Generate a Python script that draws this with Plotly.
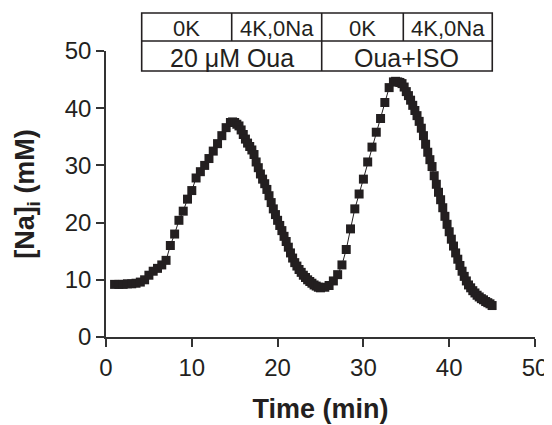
import plotly.graph_objects as go

time_min = [1.0, 1.5, 2.0, 2.5, 3.0, 3.5, 4.0, 4.5, 5.0, 5.5, 6.0, 6.5, 7.0, 7.5, 8.0, 8.5, 9.0, 9.5,
            10.0, 10.5, 11.0, 11.5, 12.0, 12.5, 13.0, 13.5, 14.0, 14.5,
            14.75, 15.0, 15.25, 15.5, 15.75, 16.0, 16.25, 16.5, 16.75, 17.0, 17.25, 17.5, 17.75,
            18.0, 18.25, 18.5, 18.75, 19.0, 19.25, 19.5, 19.75, 20.0, 20.25, 20.5, 20.75,
            21.0, 21.25, 21.5, 21.75, 22.0, 22.25, 22.5, 22.75, 23.0, 23.25, 23.5, 23.75,
            24.0, 24.25, 24.5, 24.75, 25.0, 25.5, 26.0, 26.5, 27.0, 27.5, 28.0, 28.5, 29.0,
            29.5, 30.0, 30.5, 31.0, 31.5, 32.0, 32.5, 33.0, 33.5,
            33.75, 34.0, 34.25, 34.5, 34.75, 35.0, 35.25, 35.5, 35.75, 36.0, 36.25, 36.5, 36.75,
            37.0, 37.25, 37.5, 37.75, 38.0, 38.25, 38.5, 38.75, 39.0, 39.25, 39.5, 39.75,
            40.0, 40.25, 40.5, 40.75, 41.0, 41.25, 41.5, 41.75, 42.0, 42.25, 42.5, 42.75,
            43.0, 43.25, 43.5, 43.75, 44.0, 44.25, 44.5, 44.75, 45.0]
na_i = [9.2, 9.2, 9.2, 9.3, 9.3, 9.4, 9.6, 10.0, 10.8, 11.5, 12.0, 12.6, 13.4, 16.0, 18.0, 20.4, 22.0, 24.1,
        25.6, 27.8, 28.9, 30.0, 31.2, 32.5, 33.8, 35.2, 36.6, 37.5,
        37.6, 37.5, 37.2, 36.9, 36.2, 35.4, 34.6, 33.9, 33.3, 32.7, 31.9, 30.6, 29.6,
        28.5, 27.6, 26.8, 25.8, 24.7, 23.5, 22.4, 21.4, 20.4, 19.5, 18.6, 17.6,
        16.7, 15.7, 14.7, 13.8, 13.0, 12.4, 11.8, 11.3, 10.8, 10.4, 10.0, 9.7,
        9.4, 9.1, 8.9, 8.7, 8.6, 8.7, 9.0, 9.8, 10.9, 12.6, 15.3, 18.9, 22.4,
        25.0, 27.6, 30.6, 33.2, 35.8, 38.2, 41.0, 43.6, 44.6,
        44.7, 44.6, 44.5, 44.3, 43.7, 42.9, 42.2, 41.4, 40.5, 39.6, 38.7, 37.7, 36.5,
        35.2, 33.7, 32.3, 31.0, 29.8, 28.2, 26.7, 25.3, 24.0, 22.6, 21.1, 19.7,
        18.4, 17.1, 15.9, 14.7, 13.6, 12.5, 11.5, 10.6, 9.8, 9.1, 8.6, 8.1,
        7.7, 7.3, 7.0, 6.7, 6.5, 6.2, 6.0, 5.8, 5.5]

x_ticks = [0, 10, 20, 30, 40, 50]
y_ticks = [0, 10, 20, 30, 40, 50]

# protocol table (time boundaries in minutes)
row1_edges = [4.16, 14.65, 25.14, 34.65, 45.02]
row1_labels = ["0K", "4K,0Na", "0K", "4K,0Na"]
row2_edges = [4.16, 25.14, 45.02]
row2_labels = ["20 \u03bcM Oua", "Oua+ISO"]

FONT = "Liberation Sans, Arial, sans-serif"
INK = "#231f20"

fig = go.Figure()
fig.add_trace(go.Scatter(
    x=time_min, y=na_i, mode="lines+markers",
    line=dict(color=INK, width=1),
    marker=dict(symbol="square", size=9, color=INK),
    showlegend=False, cliponaxis=False,
))

# table geometry in paper coords
y_top, y_mid, y_bot = 1.133, 1.035, 0.930
shapes = []
line_style = dict(color=INK, width=1.6)
shapes.append(dict(type="rect", xref="x", yref="paper", x0=row1_edges[0], x1=row1_edges[-1],
                   y0=y_bot, y1=y_top, line=line_style, fillcolor="white", layer="above"))
shapes.append(dict(type="line", xref="x", yref="paper", x0=row1_edges[0], x1=row1_edges[-1],
                   y0=y_mid, y1=y_mid, line=line_style))
for e in row1_edges[1:-1]:
    shapes.append(dict(type="line", xref="x", yref="paper", x0=e, x1=e, y0=y_mid, y1=y_top, line=line_style))
for e in row2_edges[1:-1]:
    shapes.append(dict(type="line", xref="x", yref="paper", x0=e, x1=e, y0=y_bot, y1=y_mid, line=line_style))

annotations = []
for i, lab in enumerate(row1_labels):
    annotations.append(dict(x=(row1_edges[i] + row1_edges[i + 1]) / 2, y=(y_mid + y_top) / 2,
                            xref="x", yref="paper", text=lab, showarrow=False, yshift=-2,
                            font=dict(family=FONT, size=22, color=INK), yanchor="middle"))
for i, lab in enumerate(row2_labels):
    annotations.append(dict(x=(row2_edges[i] + row2_edges[i + 1]) / 2, y=(y_bot + y_mid) / 2,
                            xref="x", yref="paper", text=lab, showarrow=False, yshift=-2,
                            font=dict(family=FONT, size=25, color=INK), yanchor="middle"))

# page body has an 8px margin, so the figure is 8px smaller and margins shifted
fig.update_layout(
    width=544, height=417,
    margin=dict(l=98, r=17, t=43, b=88),
    paper_bgcolor="white", plot_bgcolor="white",
    font=dict(family=FONT, color=INK),
    shapes=shapes, annotations=annotations,
    xaxis=dict(range=[0, 50], tickvals=x_ticks, showgrid=False, zeroline=False, automargin=False,
               showline=True, linecolor="#333333", linewidth=1.5,
               ticks="outside", ticklen=8, tickcolor="#333333", tickwidth=1.5,
               tickfont=dict(size=24, family=FONT, color=INK),
               title=dict(text="<b>Time (min)</b>", font=dict(size=27, family=FONT, color=INK),
                          standoff=20)),
    yaxis=dict(range=[0, 50], tickvals=y_ticks, showgrid=False, zeroline=False, automargin=False,
               showline=True, linecolor="#333333", linewidth=1.5,
               ticks="outside", ticklen=8, tickcolor="#333333", tickwidth=1.5,
               tickfont=dict(size=24, family=FONT, color=INK),
               title=dict(text="<b>[Na]<sub>i</sub> (mM)</b>", font=dict(size=27, family=FONT, color=INK),
                          standoff=22)),
)

fig.write_html("out.html")
